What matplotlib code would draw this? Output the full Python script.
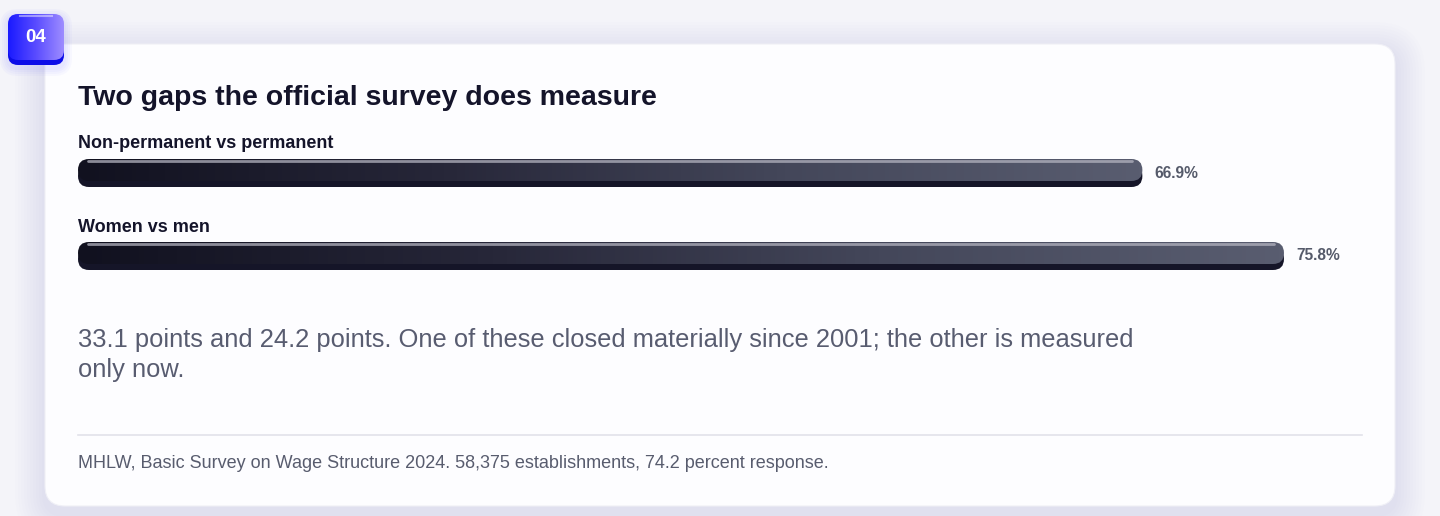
import numpy as np
import matplotlib
matplotlib.use("Agg")
from matplotlib import pyplot as plt
from matplotlib.patches import FancyBboxPatch
from matplotlib.colors import LinearSegmentedColormap

plt.rcParams['font.family'] = ['Liberation Sans', 'DejaVu Sans']

# data
categories = ['Non-permanent vs permanent', 'Women vs men']
values = [66.9, 75.8]
value_labels = ['66.9%', '75.8%']
badge_text = '04'
title = 'Two gaps the official survey does measure'
note = ('33.1 points and 24.2 points. One of these closed materially since 2001; the other is measured\n'
        'only now.')
source = 'MHLW, Basic Survey on Wage Structure 2024. 58,375 establishments, 74.2 percent response.'

W, H = 1440, 516
fig = plt.figure(figsize=(W / 100, H / 100), dpi=100)
fig.patch.set_facecolor('#f4f4f9')

# background layer in pixel coordinates
bg = fig.add_axes([0, 0, 1, 1])
bg.set_xlim(0, W)
bg.set_ylim(H, 0)
bg.axis('off')

# soft card shadow
for g in range(30, 0, -3):
    bg.add_patch(FancyBboxPatch((45 - g, 44 - g + 8), 1350 + 2 * g, 462 + 2 * g,
                                boxstyle='round,pad=0,rounding_size=%d' % (20 + g),
                                fc='#7a7ae8', ec='none', alpha=0.012))
bg.add_patch(FancyBboxPatch((45, 44), 1350, 462, boxstyle='round,pad=0,rounding_size=20',
                            fc='#fdfdff', ec='#efeff6', lw=0.8))

# badge
for g in range(8, 0, -2):
    bg.add_patch(FancyBboxPatch((8 - g, 14 - g + 3), 56 + 2 * g, 51 + 2 * g,
                                boxstyle='round,pad=0,rounding_size=%d' % (10 + g),
                                fc='#5050ff', ec='none', alpha=0.03))
bg.add_patch(FancyBboxPatch((8, 19), 56, 46, boxstyle='round,pad=0,rounding_size=10',
                            fc='#0c0ce8', ec='none'))
badge = FancyBboxPatch((8, 14), 56, 46, boxstyle='round,pad=0,rounding_size=10',
                       fc='none', ec='none')
bg.add_patch(badge)
bcmap = LinearSegmentedColormap.from_list('b', ['#1a1aff', '#5a4cff', '#9d8cff'])
im = bg.imshow(np.linspace(0, 1, 64)[None, :], cmap=bcmap, extent=(8, 64, 60, 14),
               aspect='auto', zorder=2)
im.set_clip_path(badge)
bg.plot([20, 52], [16, 16], color='white', alpha=0.45, lw=1.5, zorder=3)
bg.text(36, 37.5, badge_text, color='white', fontsize=13.5, fontweight='bold',
        ha='center', va='center', zorder=4)

# texts
bg.text(78, 98, title, fontsize=20.5, fontweight='bold', color='#14142a', va='center')
bg.text(78, 355, note, fontsize=18.4, color='#585c70', va='center', linespacing=1.33)
bg.plot([78, 1362], [435, 435], color='#e2e2ea', lw=1.2)
bg.text(78, 463, source, fontsize=13.0, color='#585c6e', va='center')

# bar axes: 1% = 15.91 px, category spacing 83 px
px_per_pct = 15.91
px_per_cat = 83.0
ax_left, ax_right = 78, 1380
ax_top, ax_bot = 130, 300
ax = fig.add_axes([ax_left / W, 1 - ax_bot / H, (ax_right - ax_left) / W, (ax_bot - ax_top) / H])
c0 = 173.0
ax.axis('off')
ax.patch.set_alpha(0)

face_h = 22 / px_per_cat
shadow_off = 6 / px_per_cat
r_x = 11 / px_per_pct
asp = px_per_pct / px_per_cat
gcmap = LinearSegmentedColormap.from_list('g', ['#11111f', '#262638', '#44475a', '#595d70'])

for i, (cat, v, lab) in enumerate(zip(categories, values, value_labels)):
    top = i - 14 / px_per_cat
    ax.add_patch(FancyBboxPatch((0, top + shadow_off), v, face_h,
                                boxstyle='round,pad=0,rounding_size=%f' % r_x,
                                mutation_aspect=asp, fc='#151528', ec='none', zorder=2))
    face = FancyBboxPatch((0, top), v, face_h, boxstyle='round,pad=0,rounding_size=%f' % r_x,
                          mutation_aspect=asp, fc='none', ec='none', zorder=3)
    ax.add_patch(face)
    g = ax.imshow(np.linspace(0, 1, 256)[None, :], cmap=gcmap, extent=(0, v, top + face_h, top),
                  aspect='auto', zorder=3)
    g.set_clip_path(face)
    ax.plot([r_x * 0.9, v - r_x * 0.9], [top + 2.2 / px_per_cat] * 2, color='#b4b4c0',
            alpha=0.75, lw=2, solid_capstyle='round', zorder=4)
    ax.text(0, i - 29 / px_per_cat, cat, fontsize=12.95, fontweight='bold', color='#14142a',
            va='center', ha='left')
    ax.text(v + 12 / px_per_pct, i, lab, fontsize=11.2, fontweight='bold',
            color='#555a6a', va='center', ha='left')

ax.set_xlim(0, (ax_right - ax_left) / px_per_pct)
ax.set_ylim((ax_bot - c0) / px_per_cat, -(c0 - ax_top) / px_per_cat)

fig.savefig('out.png', dpi=100, facecolor=fig.get_facecolor())
